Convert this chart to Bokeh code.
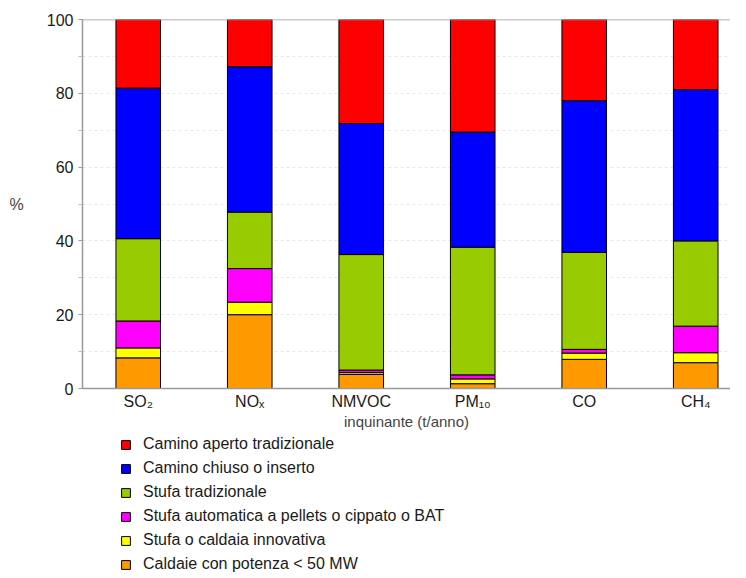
from bokeh.plotting import figure
from bokeh.models import Legend, LegendItem, Span, FixedTicker, Range1d, ColumnDataSource
from bokeh.layouts import column
from bokeh.embed import file_html
from bokeh.resources import INLINE

categories = ["SO₂", "NOₓ", "NMVOC", "PM₁₀", "CO", "CH₄"]
caldaie = [8.3, 20.0, 3.8, 1.3, 7.9, 7.0]
innovativa = [2.7, 3.4, 0.5, 1.3, 1.7, 2.7]
pellets = [7.3, 9.1, 0.7, 1.1, 1.0, 7.2]
stufa_trad = [22.3, 15.3, 31.3, 34.6, 26.3, 23.1]
camino_chiuso = [40.8, 39.4, 35.5, 31.2, 41.1, 41.0]
camino_aperto = [18.6, 12.8, 28.2, 30.5, 22.0, 19.0]

series = ["caldaie", "innovativa", "pellets", "stufa_trad", "camino_chiuso", "camino_aperto"]
labels = ["Caldaie con potenza < 50 MW", "Stufa o caldaia innovativa",
          "Stufa automatica a pellets o cippato o BAT", "Stufa tradizionale",
          "Camino chiuso o inserto", "Camino aperto tradizionale"]
colors = ["#FF9900", "#FFFF00", "#FF00FF", "#99CC00", "#0000FF", "#FF0000"]
y_ticks = [0, 20, 40, 60, 80, 100]
y_minor = [10, 30, 50, 70, 90]

xpos = [i + 0.5 for i in range(len(categories))]
data = dict(x=xpos, caldaie=caldaie, innovativa=innovativa, pellets=pellets,
            stufa_trad=stufa_trad, camino_chiuso=camino_chiuso, camino_aperto=camino_aperto)
source = ColumnDataSource(data)

FONT = "Liberation Sans"

p = figure(frame_width=648, frame_height=369, output_backend="svg", toolbar_location=None,
           x_range=Range1d(0, 5.812), y_range=Range1d(0, 100),
           min_border_left=82, min_border_right=0, min_border_top=19, min_border_bottom=0)
p.outline_line_color = None

rs = p.vbar_stack(series, x="x", width=0.4, color=colors, line_color="black",
                  line_width=1, source=source)

p.add_layout(Span(location=100, dimension="width", line_color="#999999", line_width=1.5))

p.xgrid.visible = False
p.ygrid.ticker = FixedTicker(ticks=y_ticks, minor_ticks=y_minor)
p.ygrid.grid_line_color = "#e8e8e8"
p.ygrid.grid_line_dash = "3 3"
p.ygrid.minor_grid_line_color = "#e8e8e8"
p.ygrid.minor_grid_line_dash = "3 3"

ya = p.yaxis[0]
ya.ticker = FixedTicker(ticks=y_ticks, minor_ticks=y_minor)
ya.axis_line_color = "#999999"
ya.axis_line_width = 1.5
ya.major_tick_line_color = "#999999"
ya.minor_tick_line_color = "#bbbbbb"
ya.major_tick_out = 4
ya.major_tick_in = 0
ya.minor_tick_out = 4
ya.minor_tick_in = 0
ya.major_label_text_font = FONT
ya.major_label_text_font_size = "16px"
ya.major_label_text_color = "#1a1a1a"
ya.major_label_standoff = 5
ya.axis_label = "%"
ya.axis_label_orientation = "horizontal"
ya.axis_label_text_font = FONT
ya.axis_label_text_font_style = "normal"
ya.axis_label_text_font_size = "16px"
ya.axis_label_standoff = 20

xa = p.xaxis[0]
xa.ticker = FixedTicker(ticks=xpos)
xa.major_label_overrides = {x: c for x, c in zip(xpos, categories)}
xa.axis_line_color = "#999999"
xa.axis_line_width = 1.5
xa.major_tick_line_color = None
xa.minor_tick_line_color = None
xa.major_tick_out = 0
xa.major_tick_in = 0
xa.major_label_text_font = FONT
xa.major_label_text_font_size = "16px"
xa.major_label_text_color = "#1a1a1a"
xa.major_label_standoff = 4
xa.axis_label = "inquinante (t/anno)"
xa.axis_label_text_font = FONT
xa.axis_label_text_font_style = "normal"
xa.axis_label_text_font_size = "15px"
xa.axis_label_standoff = 0

# Legend panel: hidden renderers only provide the legend swatches
q = figure(width=730, height=142, output_backend="svg", toolbar_location=None,
           x_range=Range1d(0, 1), y_range=Range1d(0, 1),
           x_axis_location=None, y_axis_location=None,
           min_border_left=0, min_border_right=0, min_border_top=0, min_border_bottom=0)
q.outline_line_color = None
q.grid.visible = False
leg_rs = [q.vbar(x="x", top=s, width=0.4, fill_color=c, line_color="black", line_width=1,
                 source=source, visible=False)
          for s, c in zip(series, colors)]
items = [LegendItem(label=labels[i], renderers=[leg_rs[i]]) for i in reversed(range(len(series)))]
legend = Legend(items=items, location=(38, 0), orientation="vertical",
                glyph_width=11, glyph_height=11, label_height=20, spacing=4,
                label_standoff=12, padding=0, margin=0,
                inactive_fill_alpha=0,
                label_text_font=FONT, label_text_font_size="16px", label_text_color="#1a1a1a",
                border_line_color=None, background_fill_alpha=0)
q.add_layout(legend, "center")

layout = column(p, q, spacing=0)
open("out.html", "w").write(file_html(layout, INLINE))
